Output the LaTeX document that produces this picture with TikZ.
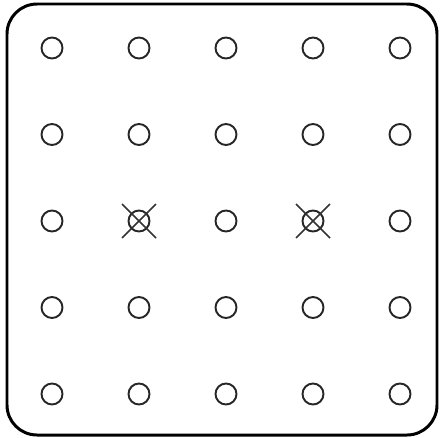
\documentclass[tikz,border=0pt]{standalone}
\usepackage{tikz}
\usetikzlibrary{positioning}
\tikzstyle{hole} = [circle, draw=black!85, line width=1.1pt, minimum size=0.42cm, inner sep=0pt]
\tikzstyle{cross} = [draw=black!80, line width=0.9pt]

\begin{document}
\begin{tikzpicture}[x=0.02cm, y=-0.02cm]
        % Rahmen
        \useasboundingbox (0,0) rectangle (440,437);
        \draw[line width=1.7pt, rounded corners=0.6cm] (7,4) rectangle (437,435);
        
        % Raster der Kreise (5 x 5)
        \foreach \r in {0,...,4}
            \foreach \c in {0,...,4}
                \node[hole] (h\r\c) at ({52+87*\c},{48+86.5*\r}) {};
        
        % Durchgekreuzte Kreise
        \foreach \n in {h21,h23} {
            \draw[cross] ([shift={(-0.34cm,-0.34cm)}]\n.center) -- ([shift={(0.34cm,0.34cm)}]\n.center);
            \draw[cross] ([shift={(-0.34cm,0.34cm)}]\n.center) -- ([shift={(0.34cm,-0.34cm)}]\n.center);
        }
        
    \end{tikzpicture}
\end{document}
